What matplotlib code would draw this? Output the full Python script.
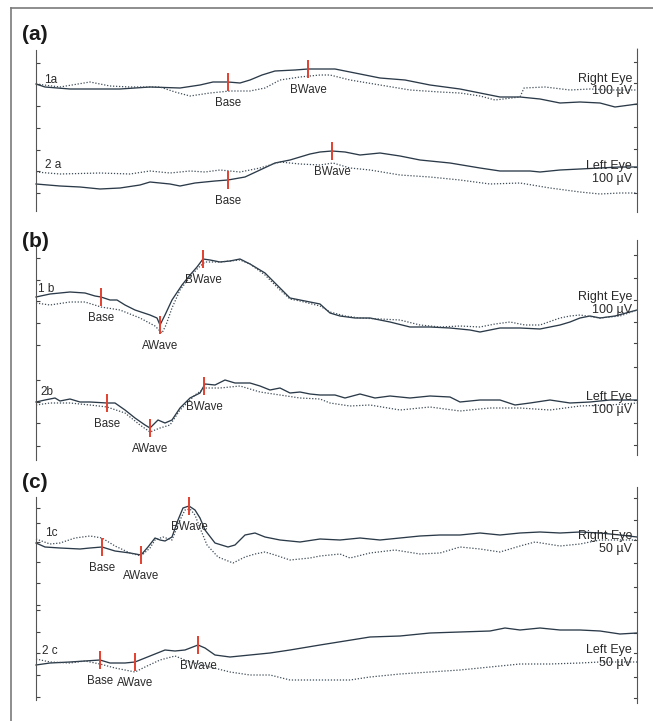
import numpy as np
import matplotlib.pyplot as plt
from matplotlib.lines import Line2D

plt.rcParams['font.family'] = ['Liberation Sans', 'DejaVu Sans']

# ERG traces: sample index along the sweep, amplitude (µV) relative to each row's baseline
# --- (a) ---
t_1a = [0, 9, 34, 84, 114, 144, 164, 177, 192, 204, 214, 226, 239, 259, 272, 284, 299, 314, 344, 369,
        394, 424, 444, 464, 484, 504, 524, 544, 564, 579, 594, 601]
v_1a = [0, -3, -5, -5, -3, -4, -1, 2, 2, 1, 4, 9, 13, 14, 15, 15, 15, 12, 6, 4,
        -1, -5, -9, -13, -13, -15, -19, -18, -19, -23, -21, -20]
t_1a_dot = [0, 24, 54, 74, 94, 124, 139, 154, 174, 194, 214, 229, 244, 264, 284, 294, 314, 344, 374, 404,
            424, 444, 459, 484, 488, 509, 534, 554, 574, 601]
v_1a_dot = [0, -3, 2, -2, -3, -3, -8, -12, -9, -7, -7, -4, 4, 7, 9, 9, 4, -1, -6, -8,
            -9, -12, -16, -13, -4, -3, -6, -5, -6, -6]

t_2a = [0, 24, 44, 64, 84, 104, 114, 134, 144, 159, 179, 192, 209, 224, 239, 254, 274, 284, 296, 309,
        324, 344, 364, 384, 414, 444, 464, 494, 504, 524, 544, 564, 584, 601]
v_2a = [0, -2, -3, -5, -4, -1, 2, 0, -2, 1, 3, 4, 7, 14, 21, 24, 30, 32, 33, 32,
        29, 31, 28, 24, 21, 16, 13, 13, 12, 14, 15, 16, 17, 17]
t_2a_dot = [0, 24, 64, 94, 114, 134, 154, 169, 184, 204, 224, 244, 264, 284, 297, 314, 334, 364, 394, 424,
            454, 484, 514, 544, 564, 584, 601]
v_2a_dot = [12, 10, 11, 10, 13, 11, 13, 12, 14, 12, 16, 22, 20, 19, 21, 16, 14, 9, 7, 4,
            0, 1, -4, -8, -10, -9, -9]

# --- (b) ---
t_1b = [0, 14, 34, 49, 59, 65, 74, 81, 89, 99, 114, 121, 124, 129, 136, 146, 154, 161, 167, 174,
        184, 194, 204, 214, 229, 244, 254, 264, 274, 284, 294, 304, 319, 334, 354, 374, 394, 414, 434, 444,
        464, 484, 504, 524, 534, 544, 554, 564, 579, 601]
v_1b = [0, 3, 5, 4, 1, 0, -3, -3, -8, -13, -18, -21, -28, -18, -3, 12, 22, 30, 38, 37,
        35, 36, 38, 33, 24, 9, -1, -3, -5, -7, -16, -19, -21, -21, -25, -30, -30, -31, -33, -35,
        -31, -31, -32, -28, -25, -21, -19, -21, -19, -13]
t_1b_dot = [0, 14, 34, 49, 65, 84, 104, 119, 126, 130, 136, 144, 154, 162, 169, 184, 204, 214, 229, 244,
            254, 264, 284, 294, 309, 324, 344, 364, 384, 404, 424, 444, 459, 474, 489, 504, 524, 534, 544, 564,
            584, 601]
v_1b_dot = [-6, -8, -5, -5, -10, -13, -21, -29, -36, -28, -11, 7, 20, 29, 35, 35, 37, 33, 22, 7,
            -2, -4, -9, -15, -19, -21, -22, -23, -28, -30, -29, -30, -27, -25, -28, -28, -21, -19, -18, -21,
            -19, -13]

t_2b = [0, 9, 19, 24, 34, 44, 54, 71, 79, 89, 99, 109, 114, 122, 129, 136, 144, 154, 164, 169,
        179, 189, 199, 214, 224, 234, 244, 254, 264, 274, 284, 299, 309, 324, 339, 354, 374, 394, 414, 424,
        444, 464, 479, 494, 514, 534, 554, 574, 601]
v_2b = [0, 2, 4, 1, 3, 0, 0, -1, -1, -8, -16, -23, -26, -18, -21, -18, -6, 4, 9, 18,
        17, 22, 19, 19, 16, 12, 14, 9, 10, 8, 7, 7, 4, 8, 4, 6, 4, 6, 5, 0,
        2, 2, -3, -1, 2, -1, 0, 2, 2]
t_2b_dot = [0, 14, 34, 54, 71, 89, 104, 114, 124, 134, 144, 159, 169, 184, 204, 224, 244, 264, 284, 294,
            314, 334, 364, 394, 424, 454, 484, 514, 544, 574, 601]
v_2b_dot = [-3, -1, -1, -3, -5, -11, -23, -30, -26, -23, -8, 7, 14, 14, 16, 10, 7, 4, 3, -1,
            -4, -3, -8, -5, -9, -6, -6, -8, -4, -3, -1]

# --- (c) ---
t_1c = [0, 9, 24, 44, 54, 66, 79, 94, 105, 112, 119, 124, 129, 136, 142, 147, 153, 159, 164, 169,
        179, 192, 199, 209, 219, 229, 244, 264, 284, 304, 324, 344, 364, 384, 404, 424, 444, 464, 484, 504,
        524, 544, 564, 584, 601]
v_1c = [0, -4, -5, -6, -5, -4, -8, -10, -12, -4, 5, 3, 2, 6, 23, 35, 37, 33, 25, 13,
        0, -4, -2, 8, 10, 6, 3, 1, 4, 3, 5, 3, 5, 7, 8, 8, 10, 8, 10, 11,
        10, 11, 10, 8, 6]
t_1c_dot = [0, 14, 24, 39, 54, 66, 79, 94, 105, 114, 119, 127, 136, 144, 149, 154, 159, 164, 171, 182,
            197, 209, 219, 229, 239, 254, 274, 284, 304, 314, 334, 359, 384, 404, 424, 444, 464, 484, 499, 524,
            544, 564, 601]
v_1c_dot = [4, -1, 0, 5, 7, 5, -3, -10, -13, -5, 3, 6, 3, 23, 33, 34, 28, 15, -2, -14,
            -20, -14, -11, -9, -12, -17, -15, -13, -11, -15, -10, -7, -11, -10, -4, -6, -9, -3, 1, -3,
            -1, 3, 3]

t_2c = [0, 14, 34, 49, 64, 74, 89, 99, 109, 119, 129, 139, 149, 162, 169, 179, 194, 214, 234, 254,
        284, 309, 334, 364, 394, 424, 454, 469, 484, 504, 524, 544, 564, 584, 601]
v_2c = [0, 2, 3, 4, 5, 2, 2, 3, 7, 11, 15, 14, 15, 20, 17, 10, 8, 10, 12, 15,
        20, 24, 28, 29, 32, 33, 34, 37, 35, 37, 35, 35, 34, 31, 32]
t_2c_dot = [0, 14, 34, 49, 64, 79, 99, 109, 124, 139, 154, 174, 194, 214, 234, 254, 284, 314, 334, 364,
            394, 424, 454, 484, 514, 544, 564, 601]
v_2c_dot = [6, 3, 2, 4, 1, -3, -7, -2, 5, 9, 3, -2, -7, -10, -10, -15, -15, -15, -12, -9,
            -7, -5, -2, 1, 1, 2, 3, 3]

# markers (sample index, name)
mk_1a = [(192, 'Base'), (272, 'BWave')]
mk_2a = [(192, 'Base'), (296, 'BWave')]
mk_1b = [(65, 'Base'), (124, 'AWave'), (167, 'BWave')]
mk_2b = [(71, 'Base'), (114, 'AWave'), (168, 'BWave')]
mk_1c = [(66, 'Base'), (105, 'AWave'), (153, 'BWave')]
mk_2c = [(64, 'Base'), (99, 'AWave'), (162, 'BWave')]

W, H = 653, 721
SOLID = '#2b3a48'
DOT = '#3e4c58'
RED = '#e2402f'
TXT = '#2a2a2a'

fig = plt.figure(figsize=(W / 100, H / 100), dpi=100)

# scanned page frame
fig.add_artist(Line2D([11 / W, 1], [1 - 8 / H, 1 - 8 / H], transform=fig.transFigure, color='#7a7a7a', lw=1.2))
fig.add_artist(Line2D([11 / W, 11 / W], [1 - 8 / H, 0], transform=fig.transFigure, color='#7a7a7a', lw=1.2))


def panel(top, bottom, lticks, rticks, lb, rb):
    h = bottom - top
    ax = fig.add_axes([36 / W, 1 - bottom / H, 601 / W, h / H])
    ax.set_xlim(0, 601)
    ax.set_ylim(0, h)
    ax.set_xticks([])
    for s in ['top', 'bottom']:
        ax.spines[s].set_visible(False)
    ax.spines['left'].set_bounds(*lb)
    ax.spines['right'].set_bounds(*rb)
    for s in ['left', 'right']:
        ax.spines[s].set_color('#555555')
        ax.spines[s].set_linewidth(0.8)
        ax.spines[s].set_linestyle((0, (3, 1)))
    ax.set_yticks(lticks)
    ax.tick_params(axis='y', direction='in', length=3, width=0.8, color='#444444', labelleft=False)
    for y in rticks:
        ax.plot([601 - 3, 601], [y, y], color='#444444', lw=0.8, clip_on=False)
    ax.patch.set_alpha(0)
    return ax


def row(ax, off, t, v, td, vd, marks, name, name_t, name_dy, eye, scale, eye_dy, scale_dy):
    v = np.array(v)
    ax.plot(t, off + v, color=SOLID, lw=0.95, clip_on=False)
    ax.plot(td, off + np.array(vd), color=DOT, lw=0.9, ls=(0, (1, 1.4)), clip_on=False)
    for tm, lab in marks:
        ym = off + np.interp(tm, t, v)
        ax.vlines(tm, ym - 9, ym + 9, color=RED, lw=1.4, zorder=5)
        ax.text(tm, ym - 21, lab, ha='center', va='center', fontsize=8.3, color=TXT)
    ax.text(name_t, off + name_dy, name, ha='left', va='center', fontsize=8.5, color=TXT)
    ax.text(596, off + eye_dy, eye, ha='right', va='center', fontsize=9, color=TXT)
    ax.text(596, off + scale_dy, scale, ha='right', va='center', fontsize=9, color=TXT)


ax_a = panel(46, 214, [21, 43, 64, 86, 108, 130, 151], [21, 47, 65, 87, 110, 131, 152], (3, 164), (2, 166))
row(ax_a, 130, t_1a, v_1a, t_1a_dot, v_1a_dot, mk_1a, '1a', 8, 4, 'Right Eye', '100 µV', 5, -7)
row(ax_a, 30, t_2a, v_2a, t_2a_dot, v_2a_dot, mk_2a, '2 a', 9, 19, 'Left Eye', '100 µV', 18, 5)

ax_b = panel(238, 462, [16, 39, 60, 82, 117, 139, 161, 182, 204], [17, 39, 62, 95, 119, 140, 162, 184, 207],
             (2, 217), (7, 222))
row(ax_b, 165, t_1b, v_1b, t_1b_dot, v_1b_dot, mk_1b, '1 b', 2, 8, 'Right Eye', '100 µV', 0, -13)
row(ax_b, 60, t_2b, v_2b, t_2b_dot, v_2b_dot, mk_2b, '2b', 4, 10, 'Left Eye', '100 µV', 5, -8)

ax_c = panel(484, 705, [8, 30, 52, 73, 95, 100, 122, 143, 163, 182, 197], [7, 28, 52, 72, 93, 118, 142, 165, 185, 207],
             (5, 208), (2, 218))
row(ax_c, 162, t_1c, v_1c, t_1c_dot, v_1c_dot, mk_1c, '1c', 9, 10, 'Right Eye', '50 µV', 7, -6)
row(ax_c, 40, t_2c, v_2c, t_2c_dot, v_2c_dot, mk_2c, '2 c', 6, 14, 'Left Eye', '50 µV', 15, 2)

# panel letters
for lab, y in [('(a)', 35), ('(b)', 241), ('(c)', 482)]:
    fig.text(22 / W, 1 - y / H, lab, ha='left', va='center', fontsize=15, fontweight='bold',
             fontstretch='condensed', color='#1a1a1a')

fig.savefig('out.png', dpi=100)
